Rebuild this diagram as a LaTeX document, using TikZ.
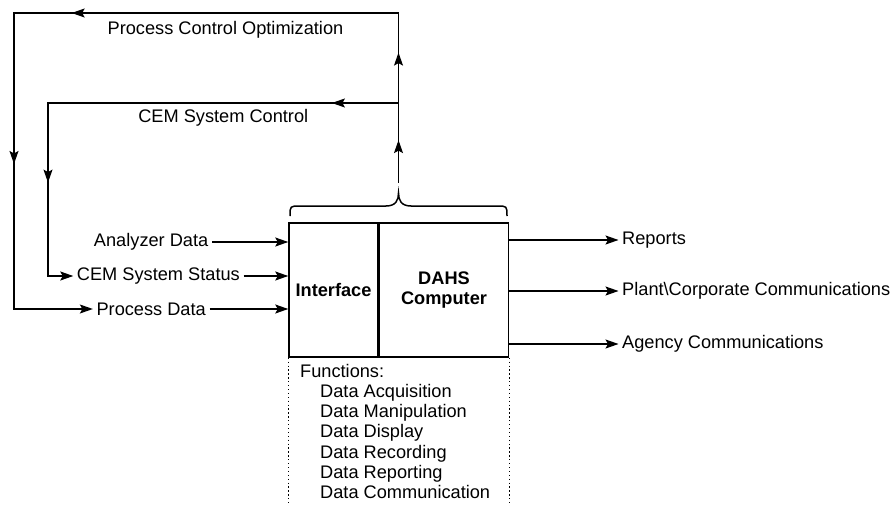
\documentclass[tikz,border=0pt]{standalone}
\usepackage{fontspec}
\setmainfont{Liberation Sans}
\usetikzlibrary{arrows.meta,decorations.markings}

\begin{document}
\begin{tikzpicture}[
  x=1pt, y=-1pt,
  every node/.style={font=\fontsize{18.2}{20.2}\selectfont},
  lbl/.style={inner sep=3.5pt},
  unit/.style={draw, line width=1.5pt, minimum height=134pt, align=center, font=\fontsize{18.2}{20}\selectfont\bfseries},
  wire/.style={line width=1.2pt, line cap=rect},
  arr/.style={-{Stealth[length=13pt,width=9pt,inset=2.5pt]}, line width=1.2pt},
  midarr/.style={wire, postaction={decorate}, decoration={markings, mark=at position #1 with {\arrow{Stealth[length=13pt,width=9pt,inset=2.5pt]}}}},
  fence/.style={line width=1.3pt, dash pattern=on 1.3pt off 2.6pt}
]
  \useasboundingbox (0,0) rectangle (892,506);

  % DAHS unit
  \node[unit, minimum width=89pt] (iface) at (333.5,290) {Interface};
  \node[unit, minimum width=129pt, anchor=west] (dahs) at (iface.east) {DAHS\\Computer};

  % inputs
  \node[lbl, anchor=east] (anl) at (212,242) {Analyzer Data};
  \node[lbl, anchor=east] (cems) at (243.5,276) {CEM System Status};
  \node[lbl, anchor=east] (prd) at (209.5,309) {Process Data};
  \draw[arr] (anl) -- (anl -| iface.west);
  \draw[arr] (cems) -- (cems -| iface.west);
  \draw[arr] (prd) -- (prd -| iface.west);

  % outputs
  \node[lbl, anchor=west] (rep) at (618.5,240) {Reports};
  \node[lbl, anchor=west] (plant) at (618.5,291) {Plant\textbackslash Corporate Communications};
  \node[lbl, anchor=west] (agency) at (618.5,344) {Agency Communications};
  \draw[arr] (rep -| dahs.east) -- (rep);
  \draw[arr] (plant -| dahs.east) -- (plant);
  \draw[arr] (agency -| dahs.east) -- (agency);

  % brace over the unit
  \draw[line width=1.5pt] (290,216) .. controls (290,206) .. (300,206) -- (386,206)
    .. controls (396,206) and (398.5,200) .. (398.5,193)
    .. controls (398.5,200) and (401,206) .. (411,206) -- (497,206)
    .. controls (507,206) .. (507,216);

  % feedback loops
  \coordinate (tip) at (398.5,182);
  \coordinate (jct) at (398.5,103);
  \coordinate (ne) at (398.5,13);
  \coordinate (nw) at (14,13);
  \coordinate (iw) at (48,103);
  \draw[midarr=0.53] (tip) -- (jct);
  \draw[midarr=0.56] (jct) -- (ne);
  \draw[midarr=0.85] (ne) -- node[below, pos=0.45, yshift=-4pt] (pco) {Process Control Optimization} (nw);
  \draw[midarr=0.51] (nw) -- (nw |- prd);
  \draw[arr] (nw |- prd) -- (prd);
  \draw[midarr=0.19] (jct) -- node[below, pos=0.5, yshift=-2.5pt] (csc) {CEM System Control} (iw);
  \draw[midarr=0.46] (iw) -- (iw |- cems);
  \draw[arr] (iw |- cems) -- (cems);

  % functions
  \coordinate (floor) at (0,506);
  \draw[fence] (iface.south west) -- (iface.south west |- floor);
  \draw[fence] (dahs.south east) -- (dahs.south east |- floor);
  \node[anchor=north west, align=left, inner sep=0pt] (funcs) at (300,364) {Functions:\\
    \hspace*{20pt}Data Acquisition\\
    \hspace*{20pt}Data Manipulation\\
    \hspace*{20pt}Data Display\\
    \hspace*{20pt}Data Recording\\
    \hspace*{20pt}Data Reporting\\
    \hspace*{20pt}Data Communication};
\end{tikzpicture}
\end{document}
